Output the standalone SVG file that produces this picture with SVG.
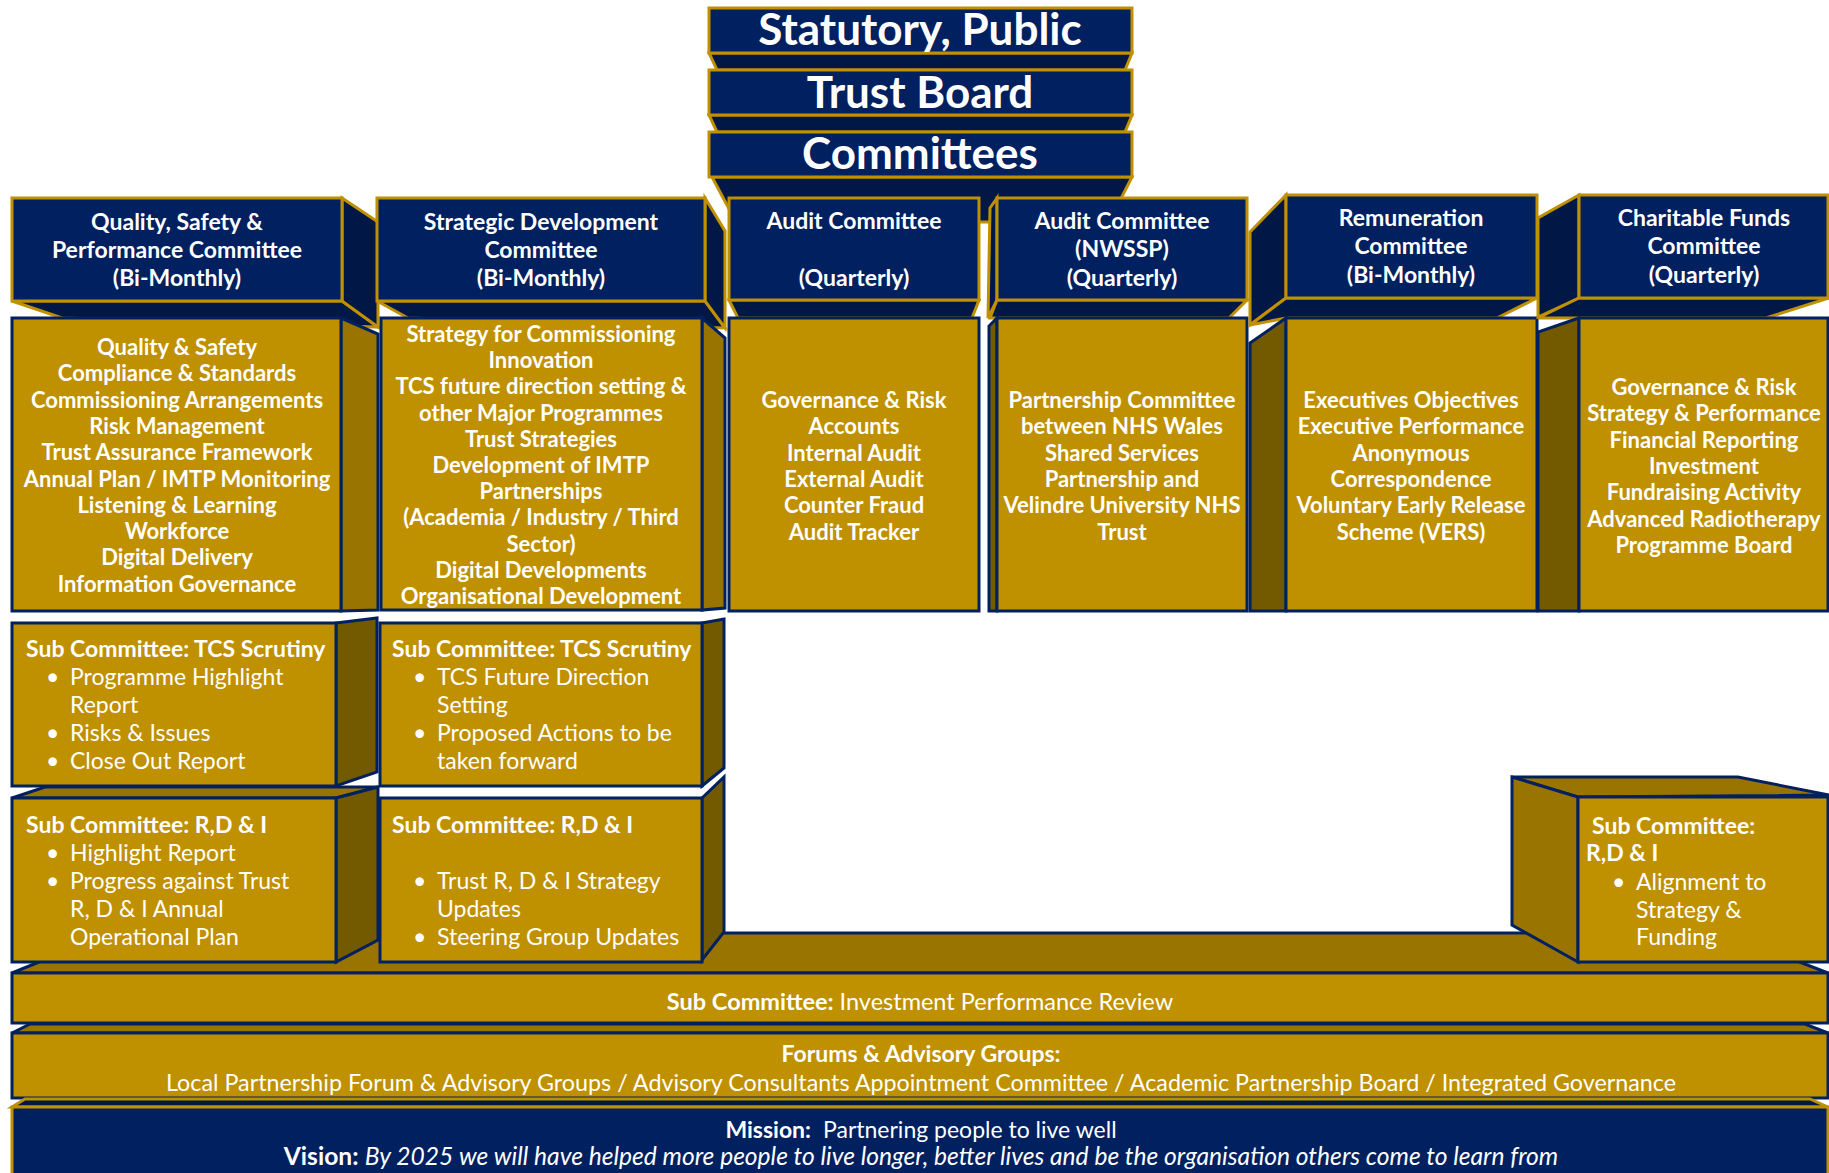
<svg xmlns="http://www.w3.org/2000/svg" width="1829" height="1173" viewBox="0 0 1829 1173">
<defs>
<style>
.hf{fill:#002060;stroke:#BF9000;stroke-width:3}
.hd{fill:#011847;stroke:#BF9000;stroke-width:3}
.bf{fill:#BF9000;stroke:#002060;stroke-width:3}
.bd{fill:#9A7400;stroke:#002060;stroke-width:3}
.bd2{fill:#735A00;stroke:#002060;stroke-width:3}
text{font-family:Lato,'Liberation Sans',sans-serif;fill:#fff}
.top{font-size:44px;font-weight:700;text-anchor:middle}
.th{font-size:23px;font-weight:700;text-anchor:middle}
.tb{font-size:22px;font-weight:700;text-anchor:middle}
.ts{font-size:23px}
.b{font-weight:700}
.c{text-anchor:middle}
</style>
</defs>
<rect width="1829" height="1173" fill="#fff"/>

<g id="top-stack">
<polygon class="hd" points="712,177 1132,177 1109,222 736,222"/>
<polygon class="hd" points="709,53 1132,53 1125,70 717,70"/>
<polygon class="hd" points="709,115 1132,115 1125,132 717,132"/>
<g id="statutory"><rect class="hf" x="709" y="8" width="423" height="45"/><text class="top" x="920" y="45">Statutory, Public</text></g>
<g id="trust-board"><rect class="hf" x="709" y="70" width="423" height="45"/><text class="top" x="920" y="108">Trust Board</text></g>
<g id="committees"><rect class="hf" x="709" y="132" width="423" height="45"/><text class="top" x="920" y="169">Committees</text></g>
</g>

<g id="investment-top">
<polygon class="bd" points="12,973 1828,973 1725,933 110,933"/>
</g>

<g id="col-qsp">
<polygon class="hd" points="12,301 342,301 378,327 62,318"/>
<polygon class="hd" points="342,198 378,222 378,327 342,301"/>
<polygon class="bd" points="341,318 378,334 378,610 341,611"/>
<rect class="hf" x="12" y="198" width="330" height="103"/>
<rect class="bf" x="12" y="318" width="329" height="293"/>
<text class="th" x="177" y="230">Quality, Safety &amp;</text>
<text class="th" x="177" y="258">Performance Committee</text>
<text class="th" x="177" y="286">(Bi-Monthly)</text>
<text class="tb" x="177" y="355">Quality &amp; Safety</text>
<text class="tb" x="177" y="381.3">Compliance &amp; Standards</text>
<text class="tb" x="177" y="407.6">Commissioning Arrangements</text>
<text class="tb" x="177" y="433.9">Risk Management</text>
<text class="tb" x="177" y="460.2">Trust Assurance Framework</text>
<text class="tb" x="177" y="486.5">Annual Plan / IMTP Monitoring</text>
<text class="tb" x="177" y="512.8">Listening &amp; Learning</text>
<text class="tb" x="177" y="539.1">Workforce</text>
<text class="tb" x="177" y="565.4">Digital Delivery</text>
<text class="tb" x="177" y="591.7">Information Governance</text>
</g>

<g id="col-strategic">
<polygon class="hd" points="377,301 705,301 725,328 408,318"/>
<polygon class="hd" points="705,198 725,231 725,328 705,301"/>
<polygon class="bd" points="702,318 725,338 725,608 702,610"/>
<rect class="hf" x="377" y="198" width="328" height="103"/>
<rect class="bf" x="381" y="318" width="321" height="292"/>
<text class="th" x="541" y="230">Strategic Development</text>
<text class="th" x="541" y="258">Committee</text>
<text class="th" x="541" y="286">(Bi-Monthly)</text>
<text class="tb" x="541" y="342">Strategy for Commissioning</text>
<text class="tb" x="541" y="368.2">Innovation</text>
<text class="tb" x="541" y="394.4">TCS future direction setting &amp;</text>
<text class="tb" x="541" y="420.6">other Major Programmes</text>
<text class="tb" x="541" y="446.8">Trust Strategies</text>
<text class="tb" x="541" y="473">Development of IMTP</text>
<text class="tb" x="541" y="499.2">Partnerships</text>
<text class="tb" x="541" y="525.4">(Academia / Industry / Third</text>
<text class="tb" x="541" y="551.6">Sector)</text>
<text class="tb" x="541" y="577.8">Digital Developments</text>
<text class="tb" x="541" y="604">Organisational Development</text>
</g>

<g id="col-audit">
<polygon class="hd" points="729,300 979,300 972,318 738,318"/>
<rect class="hf" x="729" y="198" width="250" height="102"/>
<rect class="bf" x="729" y="318" width="250" height="293"/>
<text class="th" x="854" y="229">Audit Committee</text>
<text class="th" x="854" y="286">(Quarterly)</text>
<text class="tb" x="854" y="408">Governance &amp; Risk</text>
<text class="tb" x="854" y="434.3">Accounts</text>
<text class="tb" x="854" y="460.6">Internal Audit</text>
<text class="tb" x="854" y="486.9">External Audit</text>
<text class="tb" x="854" y="513.2">Counter Fraud</text>
<text class="tb" x="854" y="539.5">Audit Tracker</text>
</g>

<g id="col-audit-nwssp">
<polygon class="hd" points="997,198 990,208 988,318 997,300"/>
<polygon class="hd" points="997,300 1247,300 1229,318 990,318"/>
<polygon class="bd2" points="997,318 989,326 989,611 997,611"/>
<rect class="hf" x="997" y="198" width="250" height="102"/>
<rect class="bf" x="997" y="318" width="250" height="293"/>
<text class="th" x="1122" y="229">Audit Committee</text>
<text class="th" x="1122" y="257">(NWSSP)</text>
<text class="th" x="1122" y="286">(Quarterly)</text>
<text class="tb" x="1122" y="408">Partnership Committee</text>
<text class="tb" x="1122" y="434.3">between NHS Wales</text>
<text class="tb" x="1122" y="460.6">Shared Services</text>
<text class="tb" x="1122" y="486.9">Partnership and</text>
<text class="tb" x="1122" y="513.2">Velindre University NHS</text>
<text class="tb" x="1122" y="539.5">Trust</text>
</g>

<g id="col-remuneration">
<polygon class="hd" points="1286,195 1250,232 1250,325 1286,298"/>
<polygon class="hd" points="1286,298 1537,298 1497,318 1286,318 1250,325"/>
<polygon class="bd2" points="1286,318 1250,343 1250,611 1286,611"/>
<rect class="hf" x="1286" y="195" width="251" height="103"/>
<rect class="bf" x="1286" y="318" width="251" height="293"/>
<text class="th" x="1411" y="226">Remuneration</text>
<text class="th" x="1411" y="254">Committee</text>
<text class="th" x="1411" y="283">(Bi-Monthly)</text>
<text class="tb" x="1411" y="408">Executives Objectives</text>
<text class="tb" x="1411" y="434.3">Executive Performance</text>
<text class="tb" x="1411" y="460.6">Anonymous</text>
<text class="tb" x="1411" y="486.9">Correspondence</text>
<text class="tb" x="1411" y="513.2">Voluntary Early Release</text>
<text class="tb" x="1411" y="539.5">Scheme (VERS)</text>
</g>

<g id="col-charitable">
<polygon class="hd" points="1579,195 1538,218 1538,317 1579,298"/>
<polygon class="hd" points="1579,298 1829,298 1766,318 1538,318"/>
<polygon class="bd2" points="1579,318 1538,332 1538,611 1579,611"/>
<rect class="hf" x="1579" y="195" width="249" height="103"/>
<rect class="bf" x="1579" y="318" width="249" height="293"/>
<text class="th" x="1704" y="226">Charitable Funds</text>
<text class="th" x="1704" y="254">Committee</text>
<text class="th" x="1704" y="283">(Quarterly)</text>
<text class="tb" x="1704" y="395">Governance &amp; Risk</text>
<text class="tb" x="1704" y="421.3">Strategy &amp; Performance</text>
<text class="tb" x="1704" y="447.6">Financial Reporting</text>
<text class="tb" x="1704" y="473.9">Investment</text>
<text class="tb" x="1704" y="500.2">Fundraising Activity</text>
<text class="tb" x="1704" y="526.5">Advanced Radiotherapy</text>
<text class="tb" x="1704" y="552.8">Programme Board</text>
</g>

<g id="sub-tcs-1">
<polygon class="bd2" points="336,623 377,618 377,772 336,786"/>
<rect class="bf" x="12" y="623" width="324" height="163"/>
<text class="ts b" x="26" y="657">Sub Committee: TCS Scrutiny</text>
<text class="ts" x="46" y="685">•</text><text class="ts" x="70" y="685">Programme Highlight</text>
<text class="ts" x="70" y="713">Report</text>
<text class="ts" x="46" y="741">•</text><text class="ts" x="70" y="741">Risks &amp; Issues</text>
<text class="ts" x="46" y="769">•</text><text class="ts" x="70" y="769">Close Out Report</text>
</g>

<g id="sub-rdi-1">
<polygon class="bd" points="12,798 336,798 378,787 45,787"/>
<polygon class="bd2" points="336,798 378,787 378,940 336,962"/>
<rect class="bf" x="12" y="798" width="324" height="164"/>
<text class="ts b" x="26" y="833">Sub Committee: R,D &amp; I</text>
<text class="ts" x="46" y="861">•</text><text class="ts" x="70" y="861">Highlight Report</text>
<text class="ts" x="46" y="889">•</text><text class="ts" x="70" y="889">Progress against Trust</text>
<text class="ts" x="70" y="917">R, D &amp; I Annual</text>
<text class="ts" x="70" y="945">Operational Plan</text>
</g>

<g id="sub-tcs-2">
<polygon class="bd2" points="702,623 724,619 724,768 702,786"/>
<rect class="bf" x="380" y="623" width="322" height="163"/>
<text class="ts b" x="392" y="657">Sub Committee: TCS Scrutiny</text>
<text class="ts" x="413" y="685">•</text><text class="ts" x="437" y="685">TCS Future Direction</text>
<text class="ts" x="437" y="713">Setting</text>
<text class="ts" x="413" y="741">•</text><text class="ts" x="437" y="741">Proposed Actions to be</text>
<text class="ts" x="437" y="769">taken forward</text>
</g>

<g id="sub-rdi-2">
<polygon class="bd2" points="702,798 724,777 724,932 702,960"/>
<rect class="bf" x="380" y="798" width="322" height="164"/>
<text class="ts b" x="392" y="833">Sub Committee: R,D &amp; I</text>
<text class="ts" x="413" y="889">•</text><text class="ts" x="437" y="889">Trust R, D &amp; I Strategy</text>
<text class="ts" x="437" y="917">Updates</text>
<text class="ts" x="413" y="945">•</text><text class="ts" x="437" y="945">Steering Group Updates</text>
</g>

<g id="sub-rdi-3">
<polygon class="bd" points="1512,777 1738,777 1829,795 1578,797"/>
<polygon class="bd" points="1512,777 1578,797 1578,962 1512,925"/>
<rect class="bf" x="1578" y="797" width="250" height="165"/>
<text class="ts b" x="1592" y="834">Sub Committee:</text>
<text class="ts b" x="1586" y="861">R,D &amp; I</text>
<text class="ts" x="1612" y="890">•</text><text class="ts" x="1636" y="890">Alignment to</text>
<text class="ts" x="1636" y="918">Strategy &amp;</text>
<text class="ts" x="1636" y="945">Funding</text>
</g>

<g id="investment">
<rect class="bf" x="12" y="973" width="1816" height="50"/>
<text class="c" x="920" y="1009.5" font-size="23.5"><tspan class="b">Sub Committee:</tspan> Investment Performance Review</text>
</g>

<g id="forums">
<polygon class="bd" points="12,1033 1828,1033 1805,1024 30,1024"/>
<rect class="bf" x="12" y="1033" width="1816" height="65"/>
<text class="ts c b" x="921" y="1062">Forums &amp; Advisory Groups:</text>
<text class="c" x="921" y="1091" font-size="23.3">Local Partnership Forum &amp; Advisory Groups / Advisory Consultants Appointment Committee / Academic Partnership Board / Integrated Governance</text>
</g>

<g id="mission">
<polygon class="hd" points="12,1107 1828,1107 1810,1099 25,1099"/>
<rect class="hf" x="12" y="1107" width="1816" height="80"/>
<text class="ts c" x="921" y="1138"><tspan class="b">Mission:</tspan><tspan dx="12">Partnering people to live well</tspan></text>
<text class="c" x="921" y="1165" font-size="24.6"><tspan class="b">Vision:</tspan> <tspan font-style="italic">By 2025 we will have helped more people to live longer, better lives and be the organisation others come to learn from</tspan></text>
</g>
</svg>
